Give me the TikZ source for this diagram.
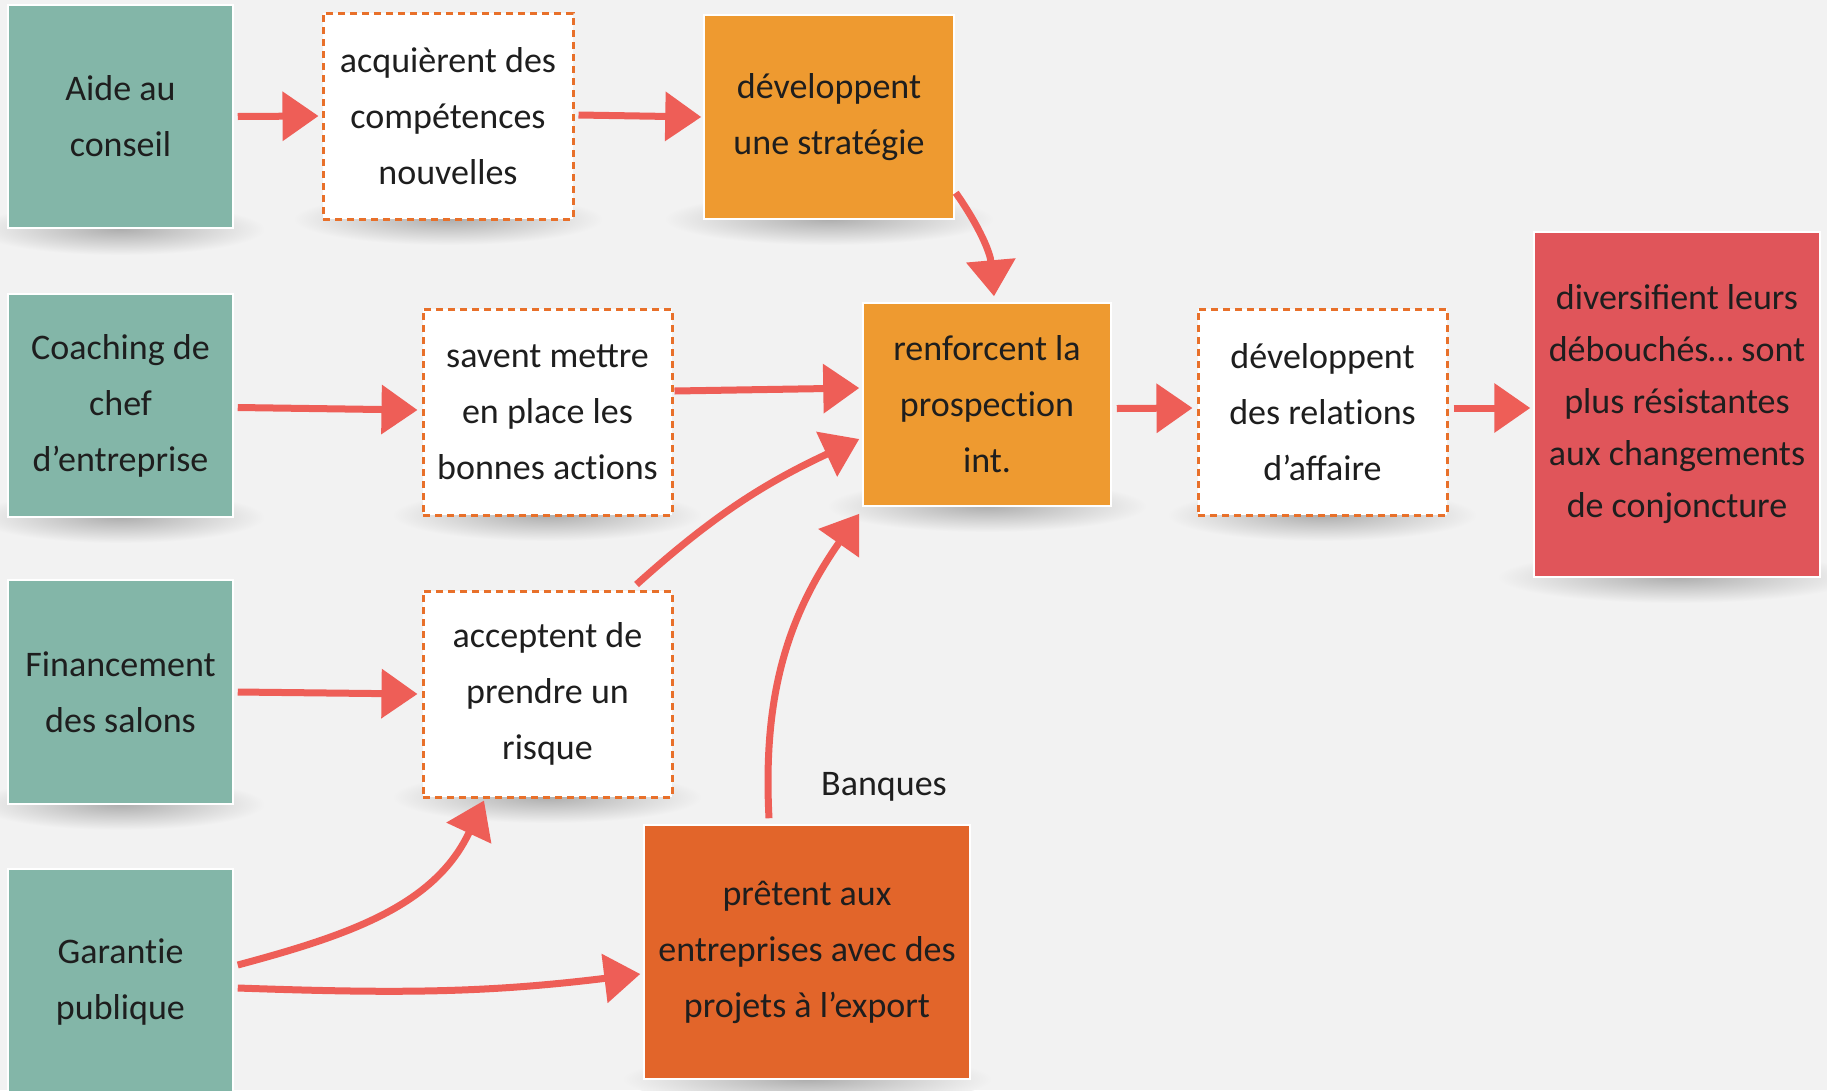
\documentclass[tikz,border=0pt]{standalone}
\usepackage{fontspec}
\setmainfont{Carlito}
\usetikzlibrary{arrows.meta}
\definecolor{bg}{HTML}{F2F2F2}
\definecolor{tealc}{HTML}{83B6A8}
\definecolor{orangec}{HTML}{EE9A30}
\definecolor{darkorange}{HTML}{E2652A}
\definecolor{redbox}{HTML}{E0555A}
\definecolor{arrowc}{HTML}{EE5E57}
\definecolor{dashc}{HTML}{E8702A}
\definecolor{txt}{HTML}{1E1E1E}
\newcommand{\shadowunder}[3]{\shade[inner color=black!32, outer color=bg] (#1,#2) ellipse [x radius=#3, y radius=26];}
\newcommand{\nl}{\kern0pt }
\tikzset{
  box/.style={draw=white, line width=1.5pt, align=center, text=txt, inner sep=0pt,
    font=\fontsize{36}{56}\selectfont},
  tealbox/.style={box, fill=tealc, minimum width=225pt, minimum height=223pt},
  dashbox/.style={box, fill=white, draw=dashc, line width=3pt, dash pattern=on 7pt off 5pt,
    minimum width=249pt, minimum height=206pt},
  orbox/.style={box, fill=orangec, minimum width=249pt, minimum height=204pt},
  arr/.style={draw=arrowc, line width=7pt, -{Triangle[length=36pt,width=48pt]}, arrowc}
}
\begin{document}
\begin{tikzpicture}[x=1pt,y=-1pt]
\useasboundingbox (0,0) rectangle (1827,1090);
\fill[bg] (0,0) rectangle (1827,1090);
% shadows
\shadowunder{120}{229}{145}
\shadowunder{448}{219}{155}
\shadowunder{829}{219}{165}
\shadowunder{120}{517}{145}
\shadowunder{547}{515}{155}
\shadowunder{987}{506}{160}
\shadowunder{1322}{515}{155}
\shadowunder{1677}{577}{180}
\shadowunder{120}{804}{145}
\shadowunder{547}{797}{155}
\shadowunder{807}{1079}{185}
% nodes
\node[tealbox] (aide) at (120.5,116.5) {Aide au\\conseil};
\node[dashbox, minimum width=250pt] (acq) at (448,116) {acquièrent des\\compétences\\nouvelles};
\node[orbox, minimum width=250pt] (strat) at (829,117) {développent\\une stratégie};
\node[tealbox] (coach) at (120.5,405.5) {Coaching de\\chef\\d’entreprise};
\node[dashbox] (savent) at (547.5,412) {savent mettre\\en place les\\bonnes act\nl ions};
\node[orbox, minimum width=248pt, minimum height=203pt] (renf) at (987,404.5) {renforcent la\\prospect\nl ion\\int.};
\node[dashbox] (relat) at (1322.5,412) {développent\\des relat\nl ions\\d’affaire};
\node[box, fill=redbox, minimum width=286pt, minimum height=345pt,
  font=\fontsize{36}{52}\selectfont] (divers) at (1677,404.5)
  {diversiﬁent leurs\\débouchés… sont\\plus résistantes\\aux changements\\de conjoncture};
\node[tealbox, minimum height=224pt] (finan) at (120.5,692) {Financement\\des salons};
\node[dashbox] (accept) at (547.5,694) {acceptent de\\prendre un\\risque};
\node[tealbox, minimum height=226pt] (garant) at (120.5,982) {Garant\nl ie\\publique};
\node[box, fill=darkorange, minimum width=326pt, minimum height=254pt] (pret) at (807,952)
  {prêtent aux\\entreprises avec des\\projets à l’export};
\node[text=txt, font=\fontsize{36}{44}\selectfont, inner sep=0pt] (banques) at (884,787) {Banques};
% arrows
\draw[arr] ([xshift=4pt]aide.east) -- ([xshift=-3pt]acq.west);
\draw[arr] ([xshift=4pt,yshift=1pt]acq.east) -- ([xshift=-2pt]strat.west);
\draw[arr] ([xshift=1pt,yshift=27pt]strat.south east) to[out=-55, in=95] ([xshift=7pt,yshift=6pt]renf.north);
\draw[arr] ([xshift=4pt,yshift=-2pt]coach.east) -- ([xshift=-4pt,yshift=2pt]savent.west);
\draw[arr] ([xshift=1pt,yshift=21pt]savent.east) -- ([xshift=-3pt,yshift=16.5pt]renf.west);
\draw[arr] ([xshift=-37pt,yshift=5pt]accept.north east) to[out=42, in=205] ([xshift=-3pt,yshift=-34.5pt]renf.west);
\draw[arr] ([xshift=-38pt,yshift=6pt]pret.north) to[out=93, in=235] ([xshift=-3pt,yshift=-7pt]renf.south west);
\draw[arr] ([xshift=4pt]finan.east) -- ([xshift=-4pt]accept.west);
\draw[arr] ([yshift=17pt,xshift=4pt]garant.east) to[out=15, in=245] ([xshift=-63.5pt,yshift=-2pt]accept.south);
\draw[arr] ([yshift=-6pt,xshift=4pt]garant.east) to[out=-2, in=187] ([xshift=-3pt,yshift=-22pt]pret.west);
\draw[arr] ([xshift=5pt,yshift=-4pt]renf.east) -- ([xshift=-4pt,yshift=4pt]relat.west);
\draw[arr] ([xshift=5pt,yshift=4pt]relat.east) -- ([xshift=-3pt,yshift=-3.5pt]divers.west);
\end{tikzpicture}
\end{document}
